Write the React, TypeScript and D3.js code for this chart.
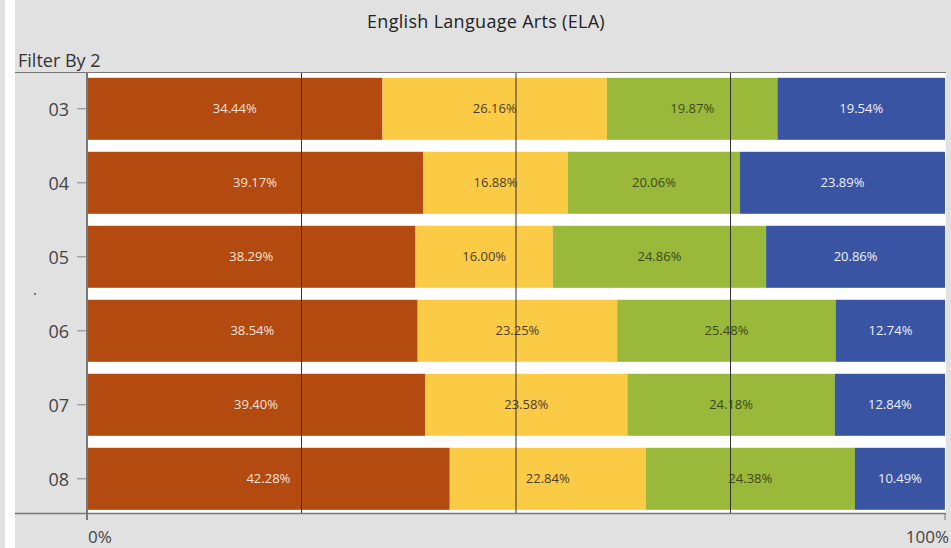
import React from "react";
import * as d3 from "d3";

const grades = ["03", "04", "05", "06", "07", "08"];
const seriesNames = ["Level 1", "Level 2", "Level 3", "Level 4"];
const level1 = [34.44, 39.17, 38.29, 38.54, 39.4, 42.28];
const level2 = [26.16, 16.88, 16.0, 23.25, 23.58, 22.84];
const level3 = [19.87, 20.06, 24.86, 25.48, 24.18, 24.38];
const level4 = [19.54, 23.89, 20.86, 12.74, 12.84, 10.49];
const xTickLabels = ["0%", "100%"];
const gridValues = [25, 50, 75];

const colors = ["#b34a10", "#fccb46", "#9ab83a", "#3a54a4"];
const labelColors = ["#f5e2d6", "#4a4030", "#3d4a1c", "#eef0f8"];

export default function App() {
  const W = 951;
  const H = 548;
  const left = 87;
  const right = 945;
  const top = 73;
  const bottom = 513;

  const x = d3.scaleLinear().domain([0, 100]).range([left, right]);
  const y = d3
    .scaleBand()
    .domain(grades)
    .range([top, bottom])
    .paddingInner(0.162)
    .paddingOuter(0.054)
    .align(0.6);

  const table = grades.map((g, i) => ({
    grade: g,
    "Level 1": level1[i],
    "Level 2": level2[i],
    "Level 3": level3[i],
    "Level 4": level4[i],
  }));
  const stacked = d3.stack<any>().keys(seriesNames)(table);

  const font = "'Open Sans', 'Noto Sans', sans-serif";

  return (
    <svg width={W} height={H} style={{ position: "absolute", left: 0, top: 0, display: "block" }} fontFamily={font}>
      <rect x={0} y={0} width={W} height={H} fill="#e1e1e1" />
      <rect x={5} y={0} width={10} height={H} fill="#ffffff" />
      <text x={486} y={28} textAnchor="middle" fontSize={18} letterSpacing={0.3} fill="#222">
        English Language Arts (ELA)
      </text>
      <text x={18} y={67} fontSize={18} fill="#333">
        Filter By 2
      </text>
      <rect x={left} y={top} width={right - left + 1} height={bottom - top} fill="#ffffff" />
      {stacked.map((s, si) =>
        s.map((d, i) => {
          const x0 = x(d[0]);
          const x1 = x(d[1]);
          const yy = y(grades[i])!;
          const v = d[1] - d[0];
          return (
            <g key={`${si}-${i}`}>
              <rect x={x0} y={yy} width={x1 - x0} height={y.bandwidth()} fill={colors[si]} />
              <text
                x={(x0 + x1) / 2}
                y={yy + y.bandwidth() / 2}
                dy="0.35em"
                textAnchor="middle"
                fontSize={13}
                fill={labelColors[si]}
              >
                {v.toFixed(2)}%
              </text>
            </g>
          );
        })
      )}
      {gridValues.map((g) => (
        <line key={g} x1={x(g)} x2={x(g)} y1={top - 1} y2={bottom} stroke="#333" strokeWidth={1} />
      ))}
      <line x1={15} x2={right + 1} y1={top - 0.5} y2={top - 0.5} stroke="#777" strokeWidth={1} />
      <line x1={15} x2={right + 1} y1={bottom + 0.5} y2={bottom + 0.5} stroke="#777" strokeWidth={1.5} />
      <line x1={left} x2={left} y1={top} y2={bottom + 7} stroke="#777" strokeWidth={2} />
      <line x1={right} x2={right} y1={bottom} y2={bottom + 7} stroke="#777" strokeWidth={1} />
      {grades.map((g) => {
        const cy = y(g)! + y.bandwidth() / 2;
        return (
          <g key={g}>
            <line x1={77} x2={86} y1={cy} y2={cy} stroke="#888" strokeWidth={1} />
            <text x={69} y={cy + 1} dy="0.35em" textAnchor="end" fontSize={18} fill="#444">
              {g}
            </text>
          </g>
        );
      })}
      <text x={x(0) + 1} y={543} textAnchor="start" fontSize={17} fill="#444">
        {xTickLabels[0]}
      </text>
      <text x={x(100) + 4} y={543} textAnchor="end" fontSize={17} fill="#444">
        {xTickLabels[1]}
      </text>
      <circle cx={35} cy={294} r={1} fill="#555" />
    </svg>
  );
}
